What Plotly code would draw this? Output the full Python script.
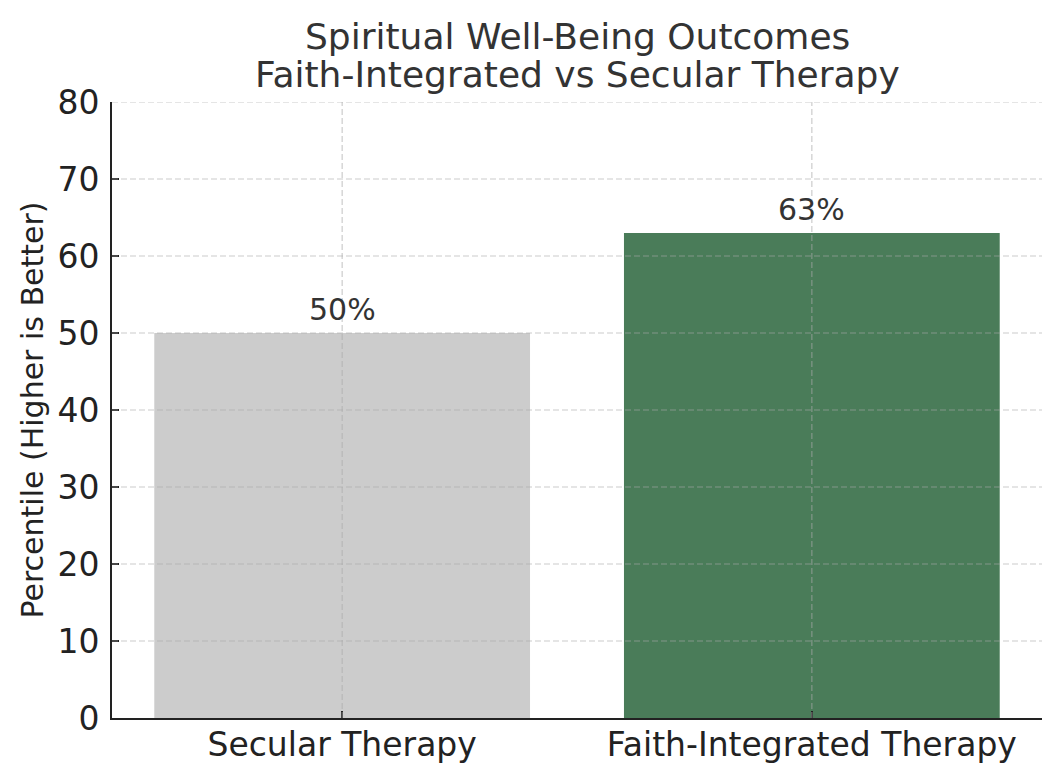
import plotly.graph_objects as go

# Data
therapies = ['Secular Therapy', 'Faith-Integrated Therapy']
percentiles = [50, 63]
bar_colors = ['#cccccc', '#4a7c59']
y_ticks = [0, 10, 20, 30, 40, 50, 60, 70, 80]
title_lines = ['Spiritual Well-Being Outcomes', 'Faith-Integrated vs Secular Therapy']

fig = go.Figure()

fig.add_trace(go.Bar(
    x=therapies,
    y=percentiles,
    width=0.8,
    marker=dict(color=bar_colors, line=dict(width=0)),
    showlegend=False,
    hoverinfo='skip'
))

# value labels above bars
for name, val in zip(therapies, percentiles):
    fig.add_annotation(
        x=name, y=val + 0.5, text=f'{val}%',
        showarrow=False, yanchor='bottom',
        font=dict(size=30, color='#333333')
    )

# two-line title (tighter line spacing than plotly's title)
for line, ypos in zip(title_lines, [1.107, 1.044]):
    fig.add_annotation(
        text=line, xref='paper', yref='paper', x=0.5, y=ypos,
        xanchor='center', yanchor='middle', showarrow=False,
        font=dict(size=36, color='#333333')
    )

# dashed grid drawn over the bars (matplotlib style)
grid_style = dict(color='rgba(170,170,170,0.6)', width=1.2, dash='6px,3px')
for t in y_ticks[1:]:
    fig.add_shape(type='line', xref='paper', yref='y', x0=0, x1=1, y0=t, y1=t,
                  line=grid_style, layer='above')
for name in therapies:
    fig.add_shape(type='line', xref='x', yref='paper', x0=name, x1=name, y0=0, y1=1,
                  line=grid_style, layer='above')

fig.update_layout(
    width=1062,
    height=781,
    margin=dict(l=104, r=28, t=94, b=71),
    paper_bgcolor='white',
    plot_bgcolor='white',
    font=dict(family='DejaVu Sans', color='#222222'),
    xaxis=dict(
        range=[-0.49, 1.49],
        showgrid=False,
        showline=True, linecolor='#222222', linewidth=2,
        ticks='inside', ticklen=7, tickwidth=1.5, tickcolor='#222222',
        tickfont=dict(size=33, color='#222222'),
        ticklabelstandoff=-4,
        fixedrange=True
    ),
    yaxis=dict(
        range=[0, 80],
        tickvals=y_ticks,
        showgrid=False,
        zeroline=False,
        showline=True, linecolor='#222222', linewidth=2,
        ticks='inside', ticklen=7, tickwidth=1.5, tickcolor='#222222',
        tickfont=dict(size=33, color='#222222'),
        ticklabelstandoff=4,
        title=dict(text='Percentile (Higher is Better)', font=dict(size=30, color='#222222'), standoff=5),
        fixedrange=True
    ),
)

fig.write_html('out.html')
